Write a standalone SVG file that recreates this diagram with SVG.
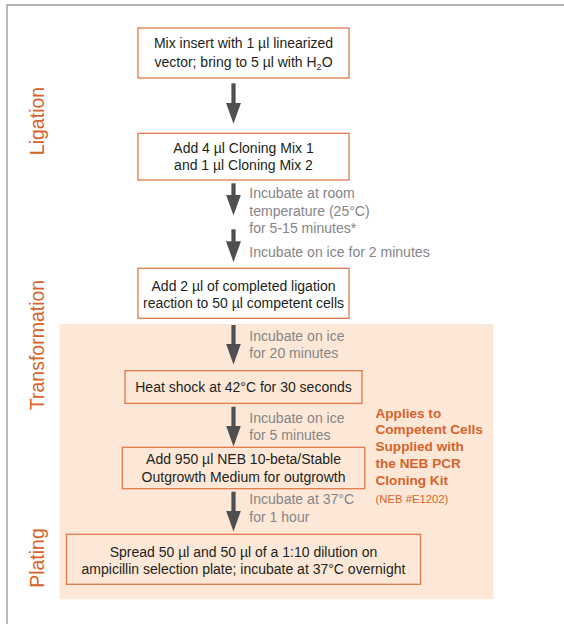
<svg xmlns="http://www.w3.org/2000/svg" width="564" height="624" viewBox="0 0 564 624">
<defs>
<style>
.box{fill:#ffffff;stroke:#E2784C;stroke-width:1.3}
.boxs{fill:none;stroke:#E2784C;stroke-width:1.3}
.t{font-family:"Liberation Sans",Arial,sans-serif;font-size:14px;fill:#231F20;text-anchor:middle}
.g{font-family:"Liberation Sans",Arial,sans-serif;font-size:14.05px;fill:#858587}
.o{font-family:"Liberation Sans",Arial,sans-serif;font-size:13.6px;font-weight:bold;fill:#D9622B}
.on{font-family:"Liberation Sans",Arial,sans-serif;font-size:11.3px;fill:#D9622B}
.side{font-family:"Liberation Sans",Arial,sans-serif;font-size:19.5px;fill:#D9622B;text-anchor:middle}
.shaft{stroke:#4F4F51;stroke-width:4.2;fill:none;marker-end:url(#head)}
</style>
<marker id="head" markerUnits="userSpaceOnUse" markerWidth="21" markerHeight="15" viewBox="0 0 21 15" refX="0.5" refY="7.5" orient="auto">
<path d="M0,0 L21,7.5 L0,15 Z" fill="#4F4F51"/>
</marker>
</defs>
<rect width="564" height="624" fill="#ffffff"/>
<g id="frame" stroke="#9C9C9C" stroke-width="1.4" fill="none">
<path d="M7,624 V5 H564"/>
</g>
<rect id="shaded-region" x="59.4" y="324" width="434" height="275.3" fill="#FDE8D7"/>
<g id="side-labels">
<text class="side" transform="translate(44,121) rotate(-90)">Ligation</text>
<text class="side" transform="translate(44,345) rotate(-90)">Transformation</text>
<text class="side" transform="translate(44,558) rotate(-90)">Plating</text>
</g>
<g id="connectors">
<path class="shaft" d="M233.5,83.3 V103.3"/>
<path class="shaft" d="M233.5,183.3 V195"/>
<path class="shaft" d="M233.5,229.3 V241.7"/>
<path class="shaft" d="M233.5,325 V344"/>
<path class="shaft" d="M233.5,406.7 V426"/>
<path class="shaft" d="M233.5,491.7 V511"/>
</g>
<g id="annotations">
<text class="g" x="249.3" y="198.3">Incubate at room</text>
<text class="g" x="249.3" y="215.7">temperature (25°C)</text>
<text class="g" x="249.3" y="232.6">for 5-15 minutes*</text>
<text class="g" x="249.3" y="257.3">Incubate on ice for 2 minutes</text>
<text class="g" x="249.3" y="341">Incubate on ice</text>
<text class="g" x="249.3" y="358.3">for 20 minutes</text>
<text class="g" x="249.3" y="423.3">Incubate on ice</text>
<text class="g" x="249.3" y="440.3">for 5 minutes</text>
<text class="g" x="249.3" y="504.3">Incubate at 37°C</text>
<text class="g" x="249.3" y="521.7">for 1 hour</text>
</g>
<g id="node-mix">
<rect class="box" x="138" y="28" width="211" height="50"/>
<text class="t" x="243.5" y="48.3">Mix insert with 1 µl linearized</text>
<text class="t" x="243.5" y="66.7">vector; bring to 5 µl with H<tspan font-size="9" dy="3">2</tspan><tspan dy="-3">O</tspan></text>
</g>
<g id="node-cloning-mix">
<rect class="box" x="138" y="133.3" width="211" height="46.7"/>
<text class="t" x="243.5" y="153.3">Add 4 µl Cloning Mix 1</text>
<text class="t" x="243.5" y="170">and 1 µl Cloning Mix 2</text>
</g>
<g id="node-add-cells">
<rect class="box" x="138" y="268.3" width="211" height="50"/>
<text class="t" x="243.5" y="290.7">Add 2 µl of completed ligation</text>
<text class="t" x="243.5" y="307.7">reaction to 50 µl competent cells</text>
</g>
<g id="node-heat-shock">
<rect class="boxs" x="125" y="370.7" width="237" height="32.7"/>
<text class="t" x="243.5" y="392.3">Heat shock at 42°C for 30 seconds</text>
</g>
<g id="node-outgrowth">
<rect class="boxs" x="122.3" y="447.3" width="242.4" height="41.4"/>
<text class="t" x="243.5" y="464.3">Add 950 µl NEB 10-beta/Stable</text>
<text class="t" x="243.5" y="481.7">Outgrowth Medium for outgrowth</text>
</g>
<g id="node-plating">
<rect class="boxs" x="66.5" y="534.3" width="354" height="50"/>
<text class="t" x="243.5" y="556.7">Spread 50 µl and 50 µl of a 1:10 dilution on</text>
<text class="t" x="243.5" y="574">ampicillin selection plate; incubate at 37°C overnight</text>
</g>
<g id="note">
<text class="o" x="375.5" y="417.7">Applies to</text>
<text class="o" x="375.5" y="434.3">Competent Cells</text>
<text class="o" x="375.5" y="451">Supplied with</text>
<text class="o" x="375.5" y="468.3">the NEB PCR</text>
<text class="o" x="375.5" y="485">Cloning Kit</text>
<text class="on" x="375.5" y="503.3">(NEB #E1202)</text>
</g>
</svg>
